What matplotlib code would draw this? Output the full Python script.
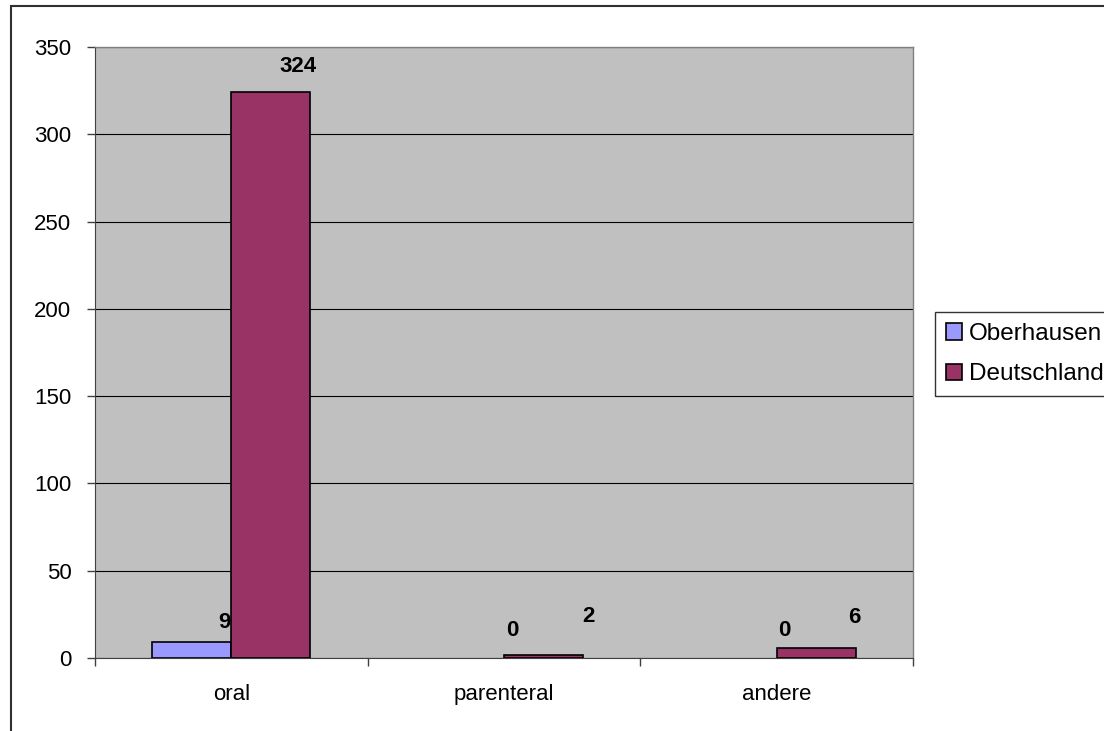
import numpy as np
import matplotlib
matplotlib.use('Agg')
from matplotlib import pyplot as plt
from matplotlib.patches import Rectangle

categories = ['oral', 'parenteral', 'andere']
oberhausen = [9, 0, 0]
deutschland = [324, 2, 6]
series_names = ['Oberhausen', 'Deutschland']
yticks = [0, 50, 100, 150, 200, 250, 300, 350]

plt.rcParams['font.family'] = ['Liberation Sans', 'DejaVu Sans']

fig = plt.figure(figsize=(11.04, 7.31), dpi=100)
ax = fig.add_axes([95/1104, 1-658/731, (913-95)/1104, (658-47)/731])
ax.set_facecolor('#C0C0C0')

x = np.arange(len(categories))
w = 0.29
b1 = ax.bar(x - w/2, oberhausen, w, color='#9999FF', edgecolor='black', linewidth=1.2, zorder=3)
b2 = ax.bar(x + w/2, deutschland, w, color='#993366', edgecolor='black', linewidth=1.2, zorder=3)
for r in list(b1) + list(b2):
    if r.get_height() == 0:
        r.set_linewidth(0)

# label offsets in pixels (dx, dy) from top centre of each bar
off1 = [(33, 20), (48, 28), (47, 27)]
off2 = [(27, 26), (45, 38), (38, 30)]
for bars, vals, offs in [(b1, oberhausen, off1), (b2, deutschland, off2)]:
    for r, v, (dx, dy) in zip(bars, vals, offs):
        ax.annotate(str(v), (r.get_x() + r.get_width()/2, v), xytext=(dx, dy),
                    textcoords='offset pixels', ha='center', va='center',
                    fontsize=16, fontweight='bold', zorder=5)

ax.set_xlim(-0.5, len(categories) - 0.5)
ax.set_ylim(0, 350)
ax.set_yticks(yticks)
ax.set_yticklabels([str(t) for t in yticks], fontsize=16)
ax.yaxis.grid(True, color='black', linewidth=0.8, zorder=1)
ax.set_axisbelow(True)
ax.tick_params(axis='y', direction='out', length=6, width=1, pad=11, color='#404040')

ax.set_xticks(x)
ax.set_xticklabels(categories, fontsize=16)
ax.set_xticks(np.arange(len(categories) + 1) - 0.5, minor=True)
ax.tick_params(axis='x', which='major', length=0, pad=19)
ax.tick_params(axis='x', which='minor', direction='out', length=6, width=1, color='#404040')

for s in ['top', 'right']:
    ax.spines[s].set_color('#808080')
    ax.spines[s].set_linewidth(1)
ax.spines['left'].set_color('#404040')
ax.spines['bottom'].set_color('#404040')

leg = fig.legend([b1, b2], series_names, loc='upper left',
                 bbox_to_anchor=(935/1104, 1-312/731), frameon=True, fancybox=False,
                 fontsize=17.5, handlelength=0.65, handleheight=0.65, handletextpad=0.3,
                 borderpad=0.45, labelspacing=0.75, borderaxespad=0)
leg.get_frame().set_edgecolor('black')
leg.get_frame().set_linewidth(1)

fig.patches.append(Rectangle((11/1104, -0.1), 1.2, 1-6/731+0.1, transform=fig.transFigure,
                             fill=False, edgecolor='#303030', linewidth=1.5, figure=fig))

fig.savefig('out.png', dpi=100)
